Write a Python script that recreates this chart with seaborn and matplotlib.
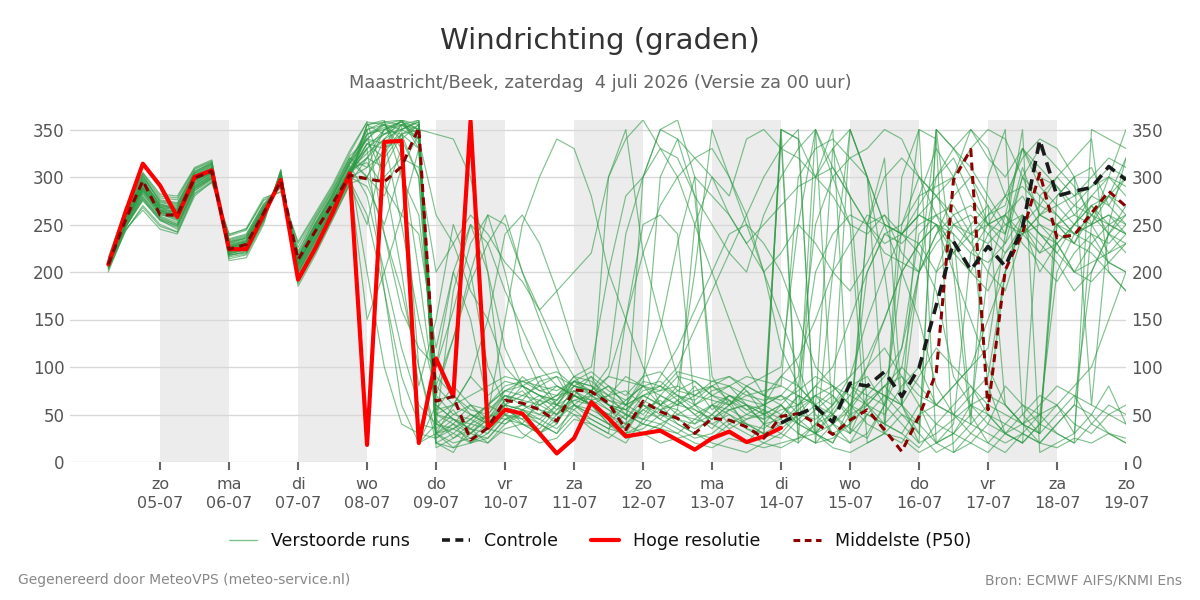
import pandas as pd
import matplotlib.pyplot as plt
import seaborn as sns
from matplotlib.lines import Line2D

# tijdas: 6-uurlijkse stappen vanaf za 4 juli 06 uur
start = "2026-07-04 06:00"
n_stappen = 60

dag_namen = ["zo", "ma", "di", "wo", "do", "vr", "za", "zo",
             "ma", "di", "wo", "do", "vr", "za", "zo"]
dag_datums = ["05-07", "06-07", "07-07", "08-07", "09-07", "10-07", "11-07", "12-07",
              "13-07", "14-07", "15-07", "16-07", "17-07", "18-07", "19-07"]

# hoge resolutie run (tot 14 juli 00 uur)
hres = [208, 263, 314, 291, 258, 300, 307, 224, 224, 260,
        297, 192, 225, 262, 304, 18, 337, 338, 20, 109,
        69, 359, 36, 55, 51, 30, 9, 25, 63, 46,
        27, 30, 33, 23, 13, 25, 32, 21, 27, 36]

# controle run, zichtbaar vanaf stap 39
controle_start = 39
controle = [41, 50, 58, 42, 83, 80, 95, 69, 99, 165,
            232, 202, 227, 206, 247, 339, 280, 285, 289, 311, 297]

# mediaan van de ensemble
p50 = [208, 255, 296, 260, 260, 299, 306, 224, 229, 262,
       296, 213, 243, 272, 302, 298, 295, 311, 352, 64,
       69, 23, 36, 65, 62, 55, 43, 76, 74, 62,
       34, 64, 53, 46, 30, 46, 44, 37, 25, 48,
       51, 41, 29, 44, 55, 34, 11, 48, 94, 297,
       329, 55, 202, 241, 304, 236, 239, 262, 285, 269]

# verstoorde runs (geschat uit de afbeelding)
run01 = [206, 250, 285, 262, 255, 292, 303, 228, 232, 265, 298, 210, 245, 275, 310,
         330, 345, 355, 350,
         40, 55, 30, 45, 70, 65, 60, 50, 80, 75, 60, 45, 70, 60, 55, 40, 60, 55, 45, 50,
         60, 40, 55, 70, 45, 65, 80, 60, 40, 200, 250, 230, 260, 270, 330, 290, 270, 250, 280, 300, 290]
run02 = [210, 258, 298, 270, 268, 302, 312, 220, 225, 258, 300, 200, 232, 268, 300,
         290, 250, 310, 345,
         30, 20, 25, 40, 60, 55, 45, 60, 85, 70, 55, 40, 60, 45, 65, 50, 35, 55, 60, 40,
         45, 70, 30, 55, 80, 90, 60, 120, 240, 260, 220, 250, 270, 240, 310, 260, 280, 300, 310, 270, 300]
run03 = [205, 252, 280, 258, 250, 288, 300, 232, 235, 268, 292, 215, 250, 280, 315,
         340, 355, 330, 20,
         60, 45, 30, 50, 150, 250, 300, 340, 330, 280, 200, 150, 100, 60, 70, 55, 45, 60, 75, 50,
         40, 60, 80, 100, 150, 200, 240, 230, 250, 260, 270, 240, 250, 230, 300, 280, 260, 240, 250, 260, 240]
run04 = [212, 262, 300, 275, 272, 305, 315, 218, 220, 255, 305, 195, 228, 262, 298,
         150, 200, 260, 330,
         25, 35, 50, 40, 55, 45, 30, 40, 70, 60, 50, 35, 55, 65, 50, 45, 40, 50, 35, 30,
         25, 45, 60, 30, 20, 50, 40, 30, 15, 40, 60, 80, 50, 30, 20, 40, 60, 30, 50, 80, 40]
run05 = [208, 256, 292, 268, 262, 296, 308, 226, 230, 262, 296, 208, 240, 272, 304,
         320, 340, 360, 355,
         80, 130, 200, 260, 200, 120, 80, 60, 70, 90, 60, 50, 80, 70, 60, 80, 55, 70, 65, 60,
         70, 50, 350, 300, 250, 240, 260, 220, 200, 230, 250, 260, 240, 220, 250, 230, 210, 180, 200, 240, 230]
run06 = [207, 248, 275, 255, 245, 285, 298, 235, 240, 272, 290, 220, 255, 285, 320,
         300, 240, 180, 100,
         20, 30, 45, 35, 50, 60, 70, 55, 75, 65, 70, 50, 45, 55, 60, 70, 80, 65, 50, 45,
         55, 60, 70, 80, 60, 50, 40, 30, 60, 20, 10, 30, 50, 40, 30, 20, 40, 60, 50, 30, 20]
run07 = [209, 260, 295, 272, 265, 300, 310, 222, 226, 260, 300, 205, 236, 266, 302,
         345, 350, 358, 340,
         90, 70, 50, 40, 60, 80, 60, 70, 90, 100, 200, 280, 300, 330, 320, 280, 250, 220, 200, 260,
         300, 330, 350, 310, 280, 250, 260, 240, 270, 300, 320, 280, 250, 260, 240, 220, 250, 260, 280, 270, 250]
run08 = [204, 246, 282, 260, 258, 290, 302, 230, 236, 266, 294, 212, 246, 278, 312,
         280, 200, 120, 60,
         40, 30, 20, 25, 45, 50, 40, 30, 60, 55, 45, 30, 35, 50, 40, 30, 25, 40, 30, 20,
         30, 20, 40, 50, 30, 70, 90, 120, 200, 240, 260, 230, 200, 180, 240, 260, 250, 230, 270, 280, 260]
run09 = [211, 254, 288, 264, 260, 298, 304, 224, 228, 264, 296, 208, 242, 270, 306,
         355, 360, 300, 260,
         100, 200, 150, 60, 50, 40, 65, 80, 70, 60, 300, 350, 220, 150, 90, 60, 70, 80, 60, 50,
         350, 30, 20, 200, 350, 300, 40, 60, 280, 330, 300, 250, 80, 30, 20, 280, 300, 320, 340, 200, 180]
run10 = [208, 257, 293, 266, 264, 300, 307, 223, 229, 261, 299, 204, 238, 270, 303,
         335, 330, 345, 300,
         50, 45, 40, 35, 60, 70, 80, 75, 85, 80, 65, 60, 70, 75, 80, 70, 65, 60, 70, 75,
         80, 70, 60, 75, 90, 110, 150, 200, 230, 250, 240, 220, 210, 230, 260, 240, 220, 250, 240, 230, 250]
run11 = [206, 253, 287, 263, 259, 294, 305, 227, 231, 263, 295, 209, 244, 274, 308,
         325, 340, 250, 150,
         70, 130, 190, 230, 260, 200, 160, 120, 90, 70, 80, 60, 90, 140, 230, 300, 280, 260, 230, 200,
         220, 250, 230, 200, 180, 210, 250, 240, 220, 180, 90, 60, 40, 30, 50, 70, 60, 40, 30, 50, 60]
run12 = [210, 259, 296, 270, 266, 303, 311, 219, 224, 257, 302, 198, 230, 264, 299,
         310, 325, 350, 358,
         30, 40, 20, 30, 55, 60, 50, 45, 65, 60, 50, 40, 55, 45, 35, 25, 30, 45, 40, 35,
         50, 40, 30, 20, 60, 80, 70, 50, 30, 10, 20, 40, 60, 200, 250, 270, 300, 280, 290, 310, 300]
run13 = [207, 251, 284, 261, 254, 291, 301, 229, 233, 267, 293, 214, 249, 279, 314,
         350, 358, 320, 200,
         60, 45, 35, 30, 50, 45, 60, 70, 75, 60, 40, 30, 60, 90, 120, 160, 200, 240, 250, 230,
         200, 150, 100, 80, 60, 40, 30, 20, 50, 60, 80, 100, 150, 200, 250, 220, 230, 250, 270, 250, 240]
run14 = [209, 258, 297, 271, 269, 304, 313, 221, 227, 259, 303, 202, 234, 266, 300,
         300, 330, 340, 355,
         20, 15, 30, 45, 40, 55, 65, 50, 60, 45, 35, 50, 40, 35, 30, 45, 60, 50, 40, 30,
         40, 55, 70, 50, 35, 25, 60, 40, 20, 30, 45, 60, 70, 60, 40, 30, 50, 70, 40, 30, 25]
run15 = [205, 249, 279, 256, 248, 287, 299, 233, 238, 270, 291, 218, 252, 283, 318,
         345, 352, 358, 350,
         345, 340, 300, 200, 120, 80, 70, 60, 55, 70, 80, 60, 50, 70, 60, 55, 45, 60, 80, 70,
         90, 80, 60, 50, 70, 100, 120, 90, 60, 40, 30, 50, 200, 260, 280, 250, 240, 230, 260, 280, 270]
run16 = [211, 261, 302, 273, 270, 306, 314, 217, 222, 256, 304, 196, 226, 260, 296,
         260, 180, 90, 40,
         35, 50, 60, 45, 65, 75, 55, 50, 70, 65, 55, 45, 65, 55, 45, 35, 45, 55, 60, 50,
         60, 45, 30, 40, 55, 80, 70, 60, 90, 120, 100, 80, 60, 50, 40, 60, 80, 70, 60, 50, 40]
run17 = [208, 255, 291, 267, 261, 297, 306, 225, 230, 263, 297, 207, 241, 271, 305,
         335, 320, 345, 330,
         50, 40, 60, 55, 70, 65, 85, 90, 80, 75, 90, 150, 220, 270, 300, 320, 330, 300, 260, 200,
         120, 80, 60, 330, 350, 300, 250, 200, 150, 80, 50, 30, 20, 40, 60, 50, 30, 20, 40, 60, 50]
run18 = [210, 257, 294, 269, 267, 301, 309, 221, 226, 260, 301, 201, 235, 267, 301,
         355, 345, 350, 360,
         45, 25, 40, 50, 45, 40, 35, 55, 65, 70, 60, 55, 45, 40, 50, 60, 50, 35, 45, 55,
         35, 50, 45, 60, 80, 60, 40, 250, 300, 280, 260, 270, 250, 260, 330, 300, 290, 270, 260, 280, 300]
run19 = [206, 252, 286, 263, 257, 293, 304, 228, 233, 264, 294, 211, 247, 276, 309,
         315, 290, 260, 240,
         120, 200, 250, 230, 180, 140, 100, 80, 70, 60, 70, 90, 80, 60, 40, 30, 50, 70, 60, 40,
         30, 50, 70, 60, 90, 150, 200, 240, 260, 250, 230, 200, 180, 220, 240, 250, 230, 200, 190, 210, 230]
run20 = [209, 256, 290, 265, 263, 299, 307, 224, 229, 262, 298, 206, 239, 269, 304,
         330, 350, 355, 340,
         30, 35, 45, 60, 75, 70, 65, 60, 80, 90, 75, 65, 80, 85, 70, 60, 75, 80, 70, 65,
         70, 60, 80, 70, 50, 60, 80, 90, 70, 60, 80, 100, 120, 240, 300, 330, 310, 290, 260, 240, 270]
run21 = [207, 254, 289, 265, 260, 296, 305, 226, 231, 263, 296, 209, 243, 273, 307,
         340, 335, 355, 345,
         55, 60, 50, 45, 60, 55, 50, 65, 85, 75, 65, 55, 75, 80, 65, 50, 60, 70, 55, 45,
         340, 20, 300, 350, 30, 250, 320, 60, 20, 350, 200, 40, 300, 350, 50, 30, 280, 300, 60, 250, 320]
run22 = [208, 253, 288, 264, 261, 295, 306, 225, 230, 262, 297, 207, 242, 272, 306,
         320, 310, 345, 350,
         40, 35, 25, 20, 35, 40, 30, 45, 60, 50, 40, 25, 30, 40, 30, 20, 15, 25, 20, 15,
         20, 25, 30, 15, 10, 20, 30, 25, 10, 20, 30, 20, 10, 30, 40, 20, 15, 25, 20, 30, 20]
run23 = [210, 259, 295, 268, 265, 302, 309, 222, 227, 259, 300, 203, 237, 268, 302,
         350, 355, 360, 335,
         65, 70, 55, 50, 75, 80, 70, 65, 90, 85, 70, 60, 85, 80, 70, 65, 80, 90, 75, 60,
         90, 110, 150, 200, 230, 260, 250, 240, 230, 200, 220, 240, 260, 280, 290, 270, 260, 240, 250, 260, 250]
run24 = [205, 250, 283, 259, 252, 289, 300, 231, 236, 268, 292, 216, 250, 281, 316,
         300, 280, 330, 100,
         30, 60, 90, 150, 240, 260, 230, 180, 120, 80, 60, 50, 40, 60, 80, 200, 350, 300, 250, 200,
         150, 100, 50, 30, 40, 60, 80, 100, 80, 60, 50, 40, 30, 20, 30, 50, 60, 80, 100, 150, 200]
run25 = [200, 245, 265, 245, 240, 280, 295, 240, 245, 275, 285, 230, 260, 290, 325,
         358, 300, 200, 80,
         150, 250, 200, 100, 60, 40, 30, 50, 70, 60, 45, 35, 300, 350, 340, 280, 90, 60, 40, 30,
         350, 340, 300, 330, 280, 60, 30, 300, 350, 20, 40, 220, 250, 240, 350, 10, 20, 30, 250, 300, 350]
run26 = [215, 268, 305, 282, 280, 310, 318, 212, 215, 250, 308, 185, 218, 255, 292,
         250, 330, 355, 360,
         20, 10, 40, 60, 80, 85, 90, 95, 80, 70, 90, 85, 80, 75, 95, 90, 85, 80, 90, 85,
         80, 300, 330, 340, 320, 300, 250, 240, 260, 280, 300, 350, 320, 300, 330, 310, 290, 260, 250, 280, 320]
run27 = [203, 243, 270, 250, 242, 283, 296, 238, 244, 276, 288, 226, 258, 288, 322,
         340, 300, 320, 310,
         200, 230, 260, 240, 210, 190, 160, 180, 200, 220, 300, 340, 360, 330, 300, 250, 200, 150, 100, 70,
         60, 40, 30, 50, 80, 70, 60, 100, 200, 300, 330, 310, 280, 250, 240, 260, 270, 280, 300, 320, 310]
run28 = [213, 265, 303, 278, 276, 308, 316, 214, 218, 252, 306, 190, 222, 258, 294,
         320, 350, 345, 355,
         15, 25, 35, 20, 40, 50, 45, 35, 55, 40, 30, 20, 45, 70, 90, 85, 70, 60, 80, 90,
         100, 250, 350, 40, 20, 30, 60, 200, 350, 340, 10, 20, 40, 80, 60, 40, 250, 230, 220, 200, 180]
run29 = [204, 247, 276, 254, 247, 286, 298, 234, 239, 271, 290, 222, 256, 286, 320,
         310, 350, 358, 345,
         80, 60, 90, 70, 85, 80, 90, 60, 85, 95, 80, 70, 90, 95, 75, 70, 85, 90, 80, 70,
         65, 75, 90, 80, 70, 60, 50, 80, 100, 60, 50, 70, 90, 200, 260, 240, 220, 200, 210, 220, 230]
run30 = [209, 255, 294, 268, 266, 300, 310, 220, 224, 258, 300, 200, 234, 268, 302,
         330, 180, 60, 20,
         30, 15, 20, 35, 30, 25, 40, 60, 50, 35, 25, 40, 30, 20, 25, 30, 20, 15, 10, 20,
         15, 25, 40, 60, 350, 300, 200, 60, 30, 350, 330, 300, 250, 280, 320, 340, 330, 300, 250, 220, 240]
run31 = [202, 244, 268, 248, 242, 282, 294, 239, 246, 278, 284, 232, 262, 292, 328,
         358, 355, 350, 340,
         260, 230, 180, 150, 100, 80, 70, 65, 80, 75, 100, 240, 300, 350, 360, 300, 60, 40, 50, 60,
         70, 90, 250, 300, 320, 330, 350, 340, 300, 280, 250, 240, 230, 250, 260, 240, 230, 200, 230, 250, 240]
run32 = [214, 266, 304, 280, 278, 309, 317, 216, 219, 254, 307, 188, 220, 256, 293,
         300, 340, 350, 358,
         50, 60, 70, 80, 90, 85, 75, 70, 85, 80, 70, 75, 60, 55, 65, 75, 80, 70, 60, 55,
         45, 30, 20, 25, 40, 250, 300, 320, 300, 260, 240, 50, 20, 10, 30, 20, 40, 60, 200, 240, 260]
run33 = [206, 249, 278, 257, 250, 290, 302, 230, 234, 266, 292, 214, 248, 280, 314,
         340, 358, 355, 20,
         40, 180, 250, 200, 50, 30, 20, 25, 45, 40, 30, 150, 250, 260, 240, 60, 40, 30, 20, 40,
         60, 80, 200, 240, 260, 250, 220, 210, 200, 240, 280, 300, 270, 60, 40, 30, 250, 270, 290, 300, 280]
run34 = [211, 260, 299, 274, 271, 304, 313, 219, 223, 257, 302, 199, 232, 266, 301,
         345, 355, 340, 300,
         70, 50, 45, 60, 75, 85, 80, 90, 60, 75, 60, 55, 70, 60, 75, 85, 70, 65, 55, 60,
         50, 70, 60, 40, 30, 50, 70, 60, 200, 350, 330, 350, 330, 280, 250, 200, 230, 250, 270, 240, 220]
run35 = [207, 252, 286, 263, 256, 293, 304, 227, 232, 264, 295, 210, 245, 276, 308,
         200, 100, 40, 30,
         25, 40, 30, 25, 45, 55, 40, 30, 50, 45, 35, 30, 40, 35, 55, 250, 300, 280, 340, 350,
         330, 320, 300, 280, 250, 20, 30, 50, 40, 20, 30, 60, 50, 30, 20, 40, 30, 20, 350, 340, 330]
run36 = [208, 254, 289, 265, 259, 296, 306, 226, 230, 262, 296, 208, 242, 273, 306,
         335, 345, 360, 350,
         55, 80, 60, 40, 65, 90, 75, 80, 70, 60, 50, 65, 80, 300, 340, 320, 300, 260, 230, 250,
         270, 290, 300, 310, 280, 250, 230, 240, 260, 250, 200, 150, 100, 60, 40, 50, 200, 240, 260, 250, 260]
run37 = [212, 263, 301, 276, 273, 306, 315, 218, 221, 255, 304, 194, 227, 262, 297,
         355, 358, 360, 330,
         30, 45, 35, 50, 70, 60, 55, 40, 75, 60, 40, 35, 60, 50, 45, 40, 50, 65, 35, 25,
         350, 340, 30, 20, 50, 200, 240, 250, 280, 290, 300, 330, 350, 340, 300, 260, 250, 240, 230, 210, 200]
run38 = [205, 248, 277, 255, 249, 288, 299, 232, 237, 269, 291, 217, 251, 282, 317,
         350, 240, 160, 120,
         100, 160, 230, 260, 250, 200, 150, 100, 60, 50, 40, 60, 70, 80, 100, 140, 180, 220, 260, 300,
         330, 350, 20, 40, 60, 100, 150, 200, 230, 250, 220, 200, 240, 260, 230, 210, 190, 220, 240, 210, 200]

runs = [run01, run02, run03, run04, run05, run06, run07, run08, run09, run10,
        run11, run12, run13, run14, run15, run16, run17, run18, run19, run20,
        run21, run22, run23, run24, run25, run26, run27, run28, run29, run30,
        run31, run32, run33, run34, run35, run36, run37, run38]

# kleuren
groen = "#2e9a45"
rood = "#ff0000"
donkerrood = "#8b0000"
zwart = "#1a1a1a"

tijd = pd.date_range(start, periods=n_stappen, freq="6h")

rows = []
for k, r in enumerate(runs):
    for t, v in zip(tijd, r):
        rows.append({"run": k, "tijd": t, "graden": v})
df_runs = pd.DataFrame(rows)

sns.set_style("white")
plt.rcParams["font.family"] = ["DejaVu Sans"]

fig = plt.figure(figsize=(12, 6), dpi=100)
ax = fig.add_axes([70 / 1200, 1 - 462 / 600, (1126 - 70) / 1200, (462 - 120) / 600])

# afwisselende dagen grijs
tick_tijden = pd.to_datetime(["2026-" + d[3:] + "-" + d[:2] for d in dag_datums])
for d0, d1 in zip(tick_tijden[0:-1:2], tick_tijden[1::2]):
    ax.axvspan(d0, d1, color="#ececec", lw=0, zorder=0)

sns.lineplot(data=df_runs, x="tijd", y="graden", units="run", estimator=None,
             color=groen, lw=0.85, alpha=0.6, ax=ax, legend=False, zorder=2)
sns.lineplot(x=tijd[:len(hres)], y=hres, color=rood, lw=3, ax=ax, zorder=3)
sns.lineplot(x=tijd, y=p50, color=donkerrood, lw=2.2, linestyle=(0, (2.6, 1.8)), ax=ax, zorder=4)
sns.lineplot(x=tijd[controle_start:], y=controle, color=zwart, lw=2.6,
             linestyle=(0, (3.2, 2.0)), ax=ax, zorder=5)

ax.set_xlim(pd.Timestamp("2026-07-03 16:40"), pd.Timestamp("2026-07-19 00:00"))
ax.set_ylim(0, 360)
ax.set_yticks(range(0, 351, 50))
ax.set_xticks(tick_tijden)
ax.set_xticklabels([f"{n}\n{d}" for n, d in zip(dag_namen, dag_datums)], linespacing=1.35)
ax.set_xlabel("")
ax.set_ylabel("")

ax.yaxis.grid(True, color="#d8d8d8", lw=1)
ax.xaxis.grid(False)
ax.set_axisbelow(True)
for s in ax.spines.values():
    s.set_visible(False)

ax.tick_params(axis="x", length=6, width=1.5, color="#666666", labelsize=11.5,
               labelcolor="#555555", pad=5, bottom=True)
ax.tick_params(axis="y", length=0, labelsize=12, labelcolor="#555555", pad=4,
               labelleft=True, labelright=True)

fig.text(0.5, 1 - 41 / 600, "Windrichting (graden)", ha="center", va="center",
         fontsize=21, color="#333333")
fig.text(0.5, 1 - 83 / 600, "Maastricht/Beek, zaterdag  4 juli 2026 (Versie za 00 uur)",
         ha="center", va="center", fontsize=12.8, color="#666666")

handles = [
    Line2D([], [], color=groen, lw=1, alpha=0.6),
    Line2D([], [], color=zwart, lw=2.6, linestyle=(0, (2.2, 1.5))),
    Line2D([], [], color=rood, lw=3),
    Line2D([], [], color=donkerrood, lw=2.2, linestyle=(0, (2.2, 1.5))),
]
labels = ["Verstoorde runs", "Controle", "Hoge resolutie", "Middelste (P50)"]
fig.legend(handles, labels, loc="center", bbox_to_anchor=(0.5, 1 - 541 / 600), ncol=4,
           frameon=False, fontsize=12.5, handlelength=1.6, handletextpad=0.8,
           columnspacing=1.9, labelcolor="#111111")

fig.text(18 / 1200, 1 - 580 / 600, "Gegenereerd door MeteoVPS (meteo-service.nl)",
         ha="left", va="center", fontsize=10, color="#888888")
fig.text(1 - 18 / 1200, 1 - 580 / 600, "Bron: ECMWF AIFS/KNMI Ens",
         ha="right", va="center", fontsize=10, color="#888888")

fig.savefig("out.png", dpi=100)
